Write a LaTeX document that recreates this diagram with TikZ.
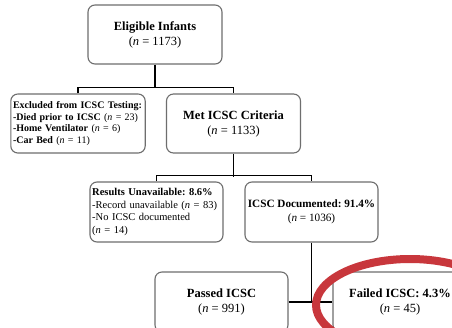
\documentclass[tikz,border=0pt]{standalone}
\usepackage{fontspec}
\setmainfont{Liberation Serif}
\frenchspacing
\definecolor{boxgray}{RGB}{110,110,110}
\definecolor{markred}{RGB}{200,55,60}
\tikzset{
  boxbase/.style={draw=boxgray, line width=1.1pt, rounded corners=7pt, rectangle, inner sep=0pt, minimum height=59pt},
  mainbox/.style={boxbase, minimum width=134pt, align=center, font=\fontsize{12.5}{15}\selectfont},
  smallbox/.style={boxbase, text width=130pt, inner xsep=2.2pt, align=left},
  link/.style={draw=black, line width=1.5pt}
}
\begin{document}
\begin{tikzpicture}[x=1pt,y=-1pt]
\useasboundingbox (0,0) rectangle (452,327);
\clip (0,0) rectangle (452,327);
\fill[white] (0,0) rectangle (452,327);

\node[mainbox] (top) at (155,34.5) {\textbf{Eligible Infants}\\(\textit{n} = 1173)};
\node[smallbox, font=\fontsize{10}{11.6}\selectfont] (excl) at (78,123.5)
  {\textbf{Excluded from ICSC Testing:}\\\textbf{-Died prior to ICSC} (\textit{n} = 23)\\\textbf{-Home Ventilator} (\textit{n} = 6)\\\textbf{-Car Bed} (\textit{n} = 11)};
\node[mainbox] (met) at (233.5,123.5) {\textbf{Met ICSC Criteria}\\(\textit{n} = 1133)};
\node[smallbox, minimum height=60pt, text width=128.6pt, font=\fontsize{10.5}{12.5}\selectfont] (res) at (156.5,212)
  {\textbf{Results Unavailable: 8.6\%}\\-Record unavailable (\textit{n} = 83)\\-No ICSC documented\\(\textit{n} = 14)};
\node[mainbox, minimum width=133pt, minimum height=60pt, font=\fontsize{11.2}{13.5}\selectfont] (doc) at (311.5,212) {\textbf{ICSC Documented: 91.4\%}\\(\textit{n} = 1036)};
\node[mainbox, minimum width=133pt, minimum height=60pt] (pass) at (221.5,302) {\textbf{Passed ICSC}\\(\textit{n} = 991)};
\node[mainbox, minimum width=134pt, minimum height=60pt] (fail) at (400,302) {\textbf{Failed ICSC: 4.3\%}\\(\textit{n} = 45)};

\draw[link] (top.south) -- ++(0,23.5) coordinate (b1);
\draw[link] (excl.north) -- ++(0,-6) -| (met.north);
\draw[link] (met.south) -- ++(0,23) coordinate (b2);
\draw[link] (res.north) -- ++(0,-6) -| (doc.north);
\draw[link] (pass.east) -- (fail.west);
\draw[link] (doc.south) -- (doc.south |- pass.east);

\draw[markred, line width=8pt] (410,305) ellipse [x radius=94, y radius=46];
\end{tikzpicture}
\end{document}
